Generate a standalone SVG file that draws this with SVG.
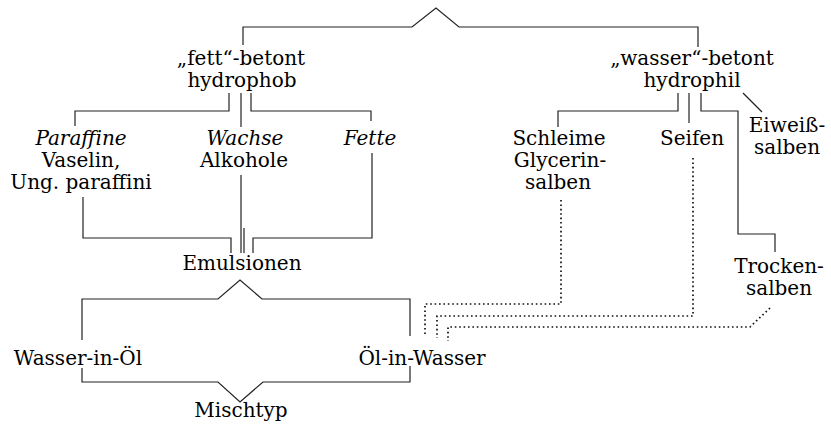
<svg xmlns="http://www.w3.org/2000/svg" width="831" height="426" viewBox="0 0 831 426">
<style>
text{font-family:"DejaVu Serif","Liberation Serif",serif;font-size:20px;fill:#000;text-anchor:middle}
.it{font-style:italic}
.ln{fill:none;stroke:#222;stroke-width:1.2}
.dot{fill:none;stroke:#111;stroke-width:1.7;stroke-dasharray:1.6 2.8}
</style>
<rect width="831" height="426" fill="#fff"/>
<g id="connectors">
<path class="ln" d="M243,45 V27 H412 L436,8 L459,27 H698 V47"/>
<path class="ln" d="M229,93 V111 H75 V126"/>
<path class="ln" d="M241,93 V127"/>
<path class="ln" d="M251,93 V111 H371 V121"/>
<path class="ln" d="M241,175 V253"/>
<path class="ln" d="M244,228 V253"/>
<path class="ln" d="M83,197 V238 H231 V253"/>
<path class="ln" d="M372,153 V238 H253 V253"/>
<path class="ln" d="M82,340 V299 H218 L240,280 L262,299 H410 V336"/>
<path class="ln" d="M82,368 V382 H218 L240,402 L263,382 H410 V366"/>
<path class="ln" d="M678,93 V111 H558 V127"/>
<path class="ln" d="M689,93 V123"/>
<path class="ln" d="M701,93 V111 H738 V234 H775 V252"/>
<path class="ln" d="M743,93 L762,112"/>
<path class="dot" d="M561,200 V304 H425 V336"/>
<path class="dot" d="M693,158 V316 H437 V338"/>
<path class="dot" d="M770,308 L750,327 H448 V341"/>
</g>
<g id="fett"><text x="241" y="65">„fett“-betont</text><text x="242" y="87">hydrophob</text></g>
<g id="wasser"><text x="692" y="65">„wasser“-betont</text><text x="692" y="87">hydrophil</text></g>
<g id="paraffine"><text class="it" x="81" y="145">Paraffine</text><text x="81" y="167">Vaselin,</text><text x="81" y="189">Ung. paraffini</text></g>
<g id="wachse"><text class="it" x="245" y="145">Wachse</text><text x="244" y="167">Alkohole</text></g>
<g id="fette"><text class="it" x="370" y="145">Fette</text></g>
<g id="emulsionen"><text x="242" y="270">Emulsionen</text></g>
<g id="wasser-in-oel"><text x="78" y="365">Wasser-in-Öl</text></g>
<g id="oel-in-wasser"><text x="422" y="365">Öl-in-Wasser</text></g>
<g id="mischtyp"><text x="241" y="417">Mischtyp</text></g>
<g id="schleime"><text x="559" y="145">Schleime</text><text x="560" y="167">Glycerin-</text><text x="558" y="189">salben</text></g>
<g id="seifen"><text x="692" y="145">Seifen</text></g>
<g id="eiweiss"><text x="787" y="132">Eiweiß-</text><text x="787" y="154">salben</text></g>
<g id="trocken"><text x="779" y="273">Trocken-</text><text x="779" y="295">salben</text></g>
</svg>
